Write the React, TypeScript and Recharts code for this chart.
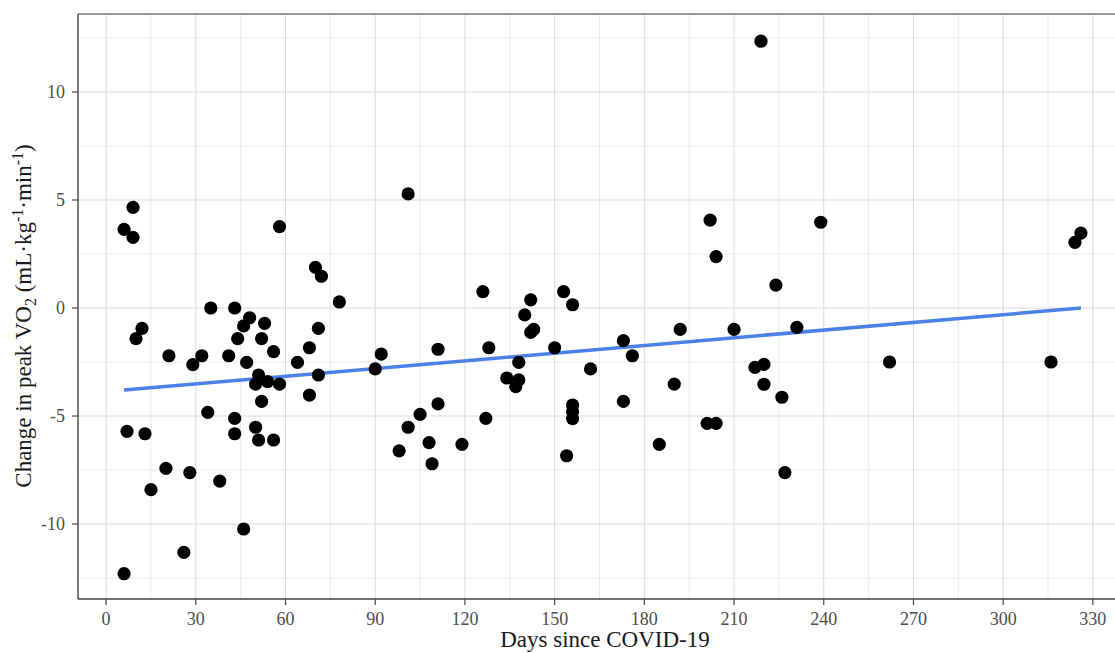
import React from 'react';
import { ScatterChart, Scatter, XAxis, YAxis, CartesianGrid, ReferenceLine } from 'recharts';

// days since COVID-19 for each participant
const days = [
  6, 6, 9, 9, 7, 10, 12, 13, 15, 20, 21, 26, 28, 29, 32, 34, 35, 38, 41, 43, 43, 43, 44, 46, 48,
  47, 46, 50, 53, 52, 51, 50, 54, 58, 52, 51, 56, 56, 58, 64, 68, 68, 71, 71, 70, 72, 78, 90, 92,
  98, 101, 101, 105, 108, 109, 111, 111, 119, 127, 128, 126, 134, 137, 138, 138, 140, 142, 142,
  143, 150, 153, 156, 154, 156, 156, 156, 162, 173, 173, 176, 185, 190, 192, 201, 204, 202, 204,
  210, 219, 217, 220, 220, 226, 227, 224, 231, 239, 262, 316, 324, 326,
];

// change in peak VO2 (mL/kg/min)
const changes = [
  -12.3, 3.64, 4.66, 3.27, -5.71, -1.42, -0.94, -5.82, -8.41, -7.42, -2.21, -11.31, -7.62, -2.62,
  -2.21, -4.83, 0, -8.01, -2.21, 0, -5.11, -5.82, -1.42, -0.83, -0.45, -2.52, -10.23, -5.52, -0.71,
  -1.42, -3.1, -3.52, -3.41, -3.52, -4.32, -6.11, -6.11, -2.02, 3.77, -2.52, -1.84, -4.03, -0.94,
  -3.1, 1.88, 1.47, 0.28, -2.82, -2.13, -6.61, 5.28, -5.52, -4.92, -6.23, -7.21, -4.44, -1.91,
  -6.31, -5.11, -1.84, 0.76, -3.24, -3.64, -3.33, -2.52, -0.32, 0.38, -1.13, -0.99, -1.84, 0.76,
  0.15, -6.84, -4.49, -4.8, -5.12, -2.82, -1.51, -4.32, -2.21, -6.31, -3.52, -0.99, -5.34, -5.34,
  4.07, 2.38, -0.99, 12.35, -2.75, -2.61, -3.53, -4.13, -7.62, 1.06, -0.9, 3.97, -2.5, -2.5, 3.04,
  3.47,
];

// linear fit endpoints
const fitDays = [6, 326];
const fitValues = [-3.8, 0.0];

const xTicks = [0, 30, 60, 90, 120, 150, 180, 210, 240, 270, 300, 330];
const xMinor = [15, 45, 75, 105, 135, 165, 195, 225, 255, 285, 315];
const yTicks = [-10, -5, 0, 5, 10];
const yMinor = [-12.5, -7.5, -2.5, 2.5, 7.5, 12.5];

const xDomain = [-9.4, 337.4];
const yDomain = [-13.47, 13.61];

const points = days.map((d, i) => ({ x: d, y: changes[i] }));
const fitLine = fitDays.map((d, i) => ({ x: d, y: fitValues[i] }));

const FONT = '"Liberation Serif", "Times New Roman", serif';
const tickStyle = { fill: '#4d4d4d', fontSize: 18, fontFamily: FONT };

const Dot = (props: any) => <circle cx={props.cx} cy={props.cy} r={6.6} fill="#000" />;
const NoDot = () => <g />;

const YTitle = () => (
  <text
    x={31}
    y={316}
    transform="rotate(-90, 31, 316)"
    textAnchor="middle"
    fontFamily={FONT}
    fontSize={23}
    fill="#1a1a1a"
  >
    <tspan>Change in peak VO</tspan>
    <tspan fontSize={16} dy={5}>2</tspan>
    <tspan dy={-5}> (mL·kg</tspan>
    <tspan fontSize={16} dy={-8}>-1</tspan>
    <tspan dy={8}>·min</tspan>
    <tspan fontSize={16} dy={-8}>-1</tspan>
    <tspan dy={8}>)</tspan>
  </text>
);

const XTitle = () => (
  <text x={605} y={647} textAnchor="middle" fontFamily={FONT} fontSize={23} fill="#1a1a1a">
    Days since COVID-19
  </text>
);

const App = () => {
  return (
    <div style={{ position: 'absolute', left: 0, top: 0, background: '#fff' }}>
      <ScatterChart width={1115} height={653} margin={{ top: 14, right: 0, bottom: 0, left: 0 }}>
        <CartesianGrid
          stroke="#ebebeb"
          horizontalValues={yMinor}
          verticalValues={xMinor}
        />
        <CartesianGrid
          stroke="#dadada"
          horizontalValues={yTicks}
          verticalValues={xTicks}
        />
        <XAxis
          type="number"
          dataKey="x"
          domain={xDomain}
          allowDataOverflow
          ticks={xTicks}
          interval={0}
          height={54}
          tickSize={6}
          tickMargin={7}
          tick={tickStyle}
          axisLine={{ stroke: '#444', strokeWidth: 1.4 }}
          tickLine={{ stroke: '#444', strokeWidth: 1.2 }}
          label={{ content: () => <XTitle /> }}
        />
        <YAxis
          type="number"
          dataKey="y"
          domain={yDomain}
          allowDataOverflow
          ticks={yTicks}
          interval={0}
          width={78}
          tickSize={6}
          tickMargin={7}
          tick={tickStyle}
          axisLine={{ stroke: '#444', strokeWidth: 1.4 }}
          tickLine={{ stroke: '#444', strokeWidth: 1.2 }}
          label={{ content: () => <YTitle /> }}
        />
        <ReferenceLine y={yDomain[1]} stroke="#777" strokeWidth={1.6} ifOverflow="visible" />
        <Scatter
          data={fitLine}
          line={{ stroke: '#4d80e6', strokeWidth: 3.5 }}
          shape={NoDot}
          isAnimationActive={false}
        />
        <Scatter data={points} shape={Dot} isAnimationActive={false} />
      </ScatterChart>
    </div>
  );
};

export default App;
